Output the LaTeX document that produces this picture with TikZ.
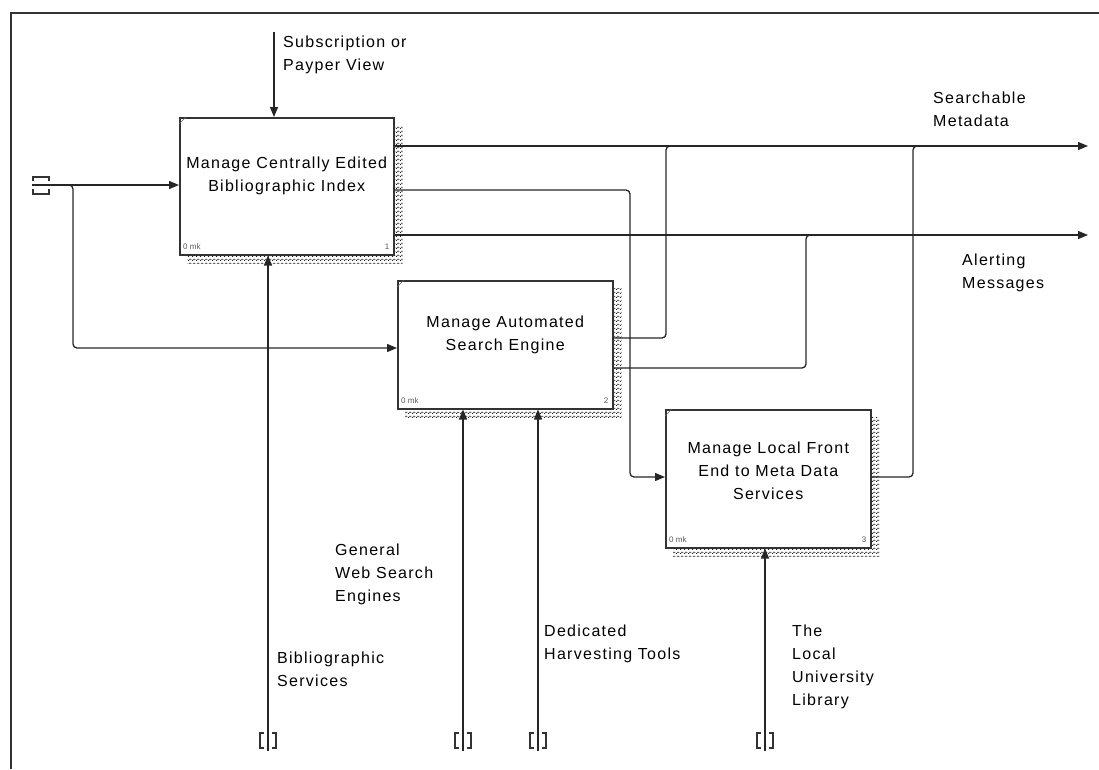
\documentclass[tikz,border=0pt]{standalone}
\usepackage{fontspec}
\setmainfont{Liberation Sans}
\newfontfamily\idef[LetterSpace=8]{Liberation Sans}
\usetikzlibrary{arrows.meta,patterns,calc,backgrounds}
\pgfdeclarepatternformonly{idefhatch}{\pgfpointorigin}{\pgfqpoint{4pt}{4pt}}{\pgfqpoint{4pt}{4pt}}{%
  \pgfpathrectangle{\pgfqpoint{0pt}{0pt}}{\pgfqpoint{1.1pt}{1.1pt}}%
  \pgfpathrectangle{\pgfqpoint{1pt}{1pt}}{\pgfqpoint{1.1pt}{1.1pt}}%
  \pgfpathrectangle{\pgfqpoint{2pt}{2pt}}{\pgfqpoint{1.1pt}{1.1pt}}%
  \pgfpathrectangle{\pgfqpoint{3pt}{1pt}}{\pgfqpoint{1.1pt}{1.1pt}}%
  \pgfusepath{fill}}
\begin{document}
\begin{tikzpicture}[x=1pt,y=-1pt,
  flow/.style={draw=black!85, line width=1.3pt, rounded corners=4pt},
  arr/.style={flow,-{Triangle[length=10pt,width=8pt]}},
  box/.style={draw=black!80, line width=1.5pt, fill=white, anchor=north west, inner sep=0pt},
  shadowfill/.style={pattern=idefhatch, pattern color=black!90},
  boxtext/.style={font=\idef\fontsize{16}{23}\selectfont, align=center, inner sep=0pt},
  lbl/.style={font=\idef\fontsize{16}{23}\selectfont, align=left, anchor=west, inner sep=0pt},
  tinytext/.style={font=\fontsize{8}{9}\selectfont, text=black!65, inner sep=0pt},
  tun/.style={draw=black!80, line width=1.2pt},
  vtun/.pic={\draw[tun] (-4,-18) -- (-8,-18) -- (-8,-3) -- (-4,-3);
             \draw[tun] (4,-18) -- (8,-18) -- (8,-3) -- (4,-3);},
  htun/.pic={\draw[tun] (1,-4) -- (1,-8) -- (17,-8) -- (17,-4);
             \draw[tun] (1,4) -- (1,9) -- (17,9) -- (17,4);},
]
\useasboundingbox (0,0) rectangle (1099,769);
\draw[line width=1.5pt, black!80] (11,769) -- (11,13) -- (1099,13);

% boxes
\node[box, minimum width=214pt, minimum height=137pt] (b1) at (179,117) {};
\node[box, minimum width=215pt, minimum height=128pt] (b2) at (397,280) {};
\node[box, minimum width=205pt, minimum height=138pt] (b3) at (665,409) {};
\begin{scope}[on background layer]
  \foreach \b in {b1,b2,b3}{
    \fill[shadowfill] ($(\b.north west)+(8,8)$) rectangle ($(\b.south east)+(8,8)$);
  }
\end{scope}
\foreach \b in {b1,b2,b3}{
  \draw[black!60, line width=0.6pt] ($(\b.north west)+(0,7)$) -- ($(\b.north west)+(7,0)$);
  \node[tinytext, anchor=west] at ($(\b.south west)+(4,-9)$) {0 mk};
}
\node[tinytext, anchor=east] (n1) at ($(b1.south east)+(-5,-9)$) {1};
\node[tinytext, anchor=east] (n2) at ($(b2.south east)+(-5,-9)$) {2};
\node[tinytext, anchor=east] (n3) at ($(b3.south east)+(-5,-9)$) {3};

\node[boxtext] (b1t) at ($(b1.center)+(0,-10)$) {Manage Centrally Edited\\Bibliographic Index};
\node[boxtext] (b2t) at ($(b2.center)+(0,-10)$) {Manage Automated\\Search Engine};
\node[boxtext] (b3t) at ($(b3.center)+(0,-8)$) {Manage Local Front\\End to Meta Data\\Services};

% free ends
\coordinate (tL) at (32,185);
\coordinate (tTop) at (274,32);
\coordinate (t1) at (268,751);
\coordinate (t2) at (463,751);
\coordinate (t3) at (538,751);
\coordinate (t4) at (765,751);
\coordinate (oSM) at (1088,146);
\coordinate (oAM) at (1088,235);

% inputs
\draw[arr] (tL) -- (b1.west |- tL);
\draw[arr] (60,185) -- (73,185) -- (73,348) -- (b2.west |- 0,348);
\pic at (tL) {htun};

% control
\draw[arr] (tTop) -- (tTop |- b1.north);

% mechanisms
\draw[arr] (t1) -- (t1 |- b1.south);
\draw[arr] (t2) -- (t2 |- b2.south);
\draw[arr] (t3) -- (t3 |- b2.south);
\draw[arr] (t4) -- (t4 |- b3.south);
\foreach \t in {t1,t2,t3,t4}{\pic at (\t) {vtun};}

% outputs
\draw[arr] (b1.east |- oSM) -- (oSM);
\draw[arr] (b1.east |- oAM) -- (oAM);
\draw[arr] (b1.east |- 0,190) -- (630,190) -- (630,477) -- (b3.west |- 0,477);
\draw[flow] (b2.east |- 0,338) -- (666,338) -- (666,146) -- (690,146);
\draw[flow] (b2.east |- 0,368) -- (806,368) -- (806,235) -- (830,235);
\draw[flow] (b3.east |- 0,477) -- (913,477) -- (913,146) -- (937,146);

% labels
\node[lbl] (lSub) at (283,54.5) {Subscription or\\Payper View};
\node[lbl] (lSM) at (933,109.5) {Searchable\\Metadata};
\node[lbl] (lAM) at (962,273) {Alerting\\Messages};
\node[lbl] (lGen) at (335,574) {General\\Web Search\\Engines};
\node[lbl] (lBib) at (277,669) {Bibliographic\\Services};
\node[lbl] (lDed) at (544,643.5) {Dedicated\\Harvesting Tools};
\node[lbl] (lLib) at (792,666.5) {The\\Local\\University\\Library};
\end{tikzpicture}
\end{document}
